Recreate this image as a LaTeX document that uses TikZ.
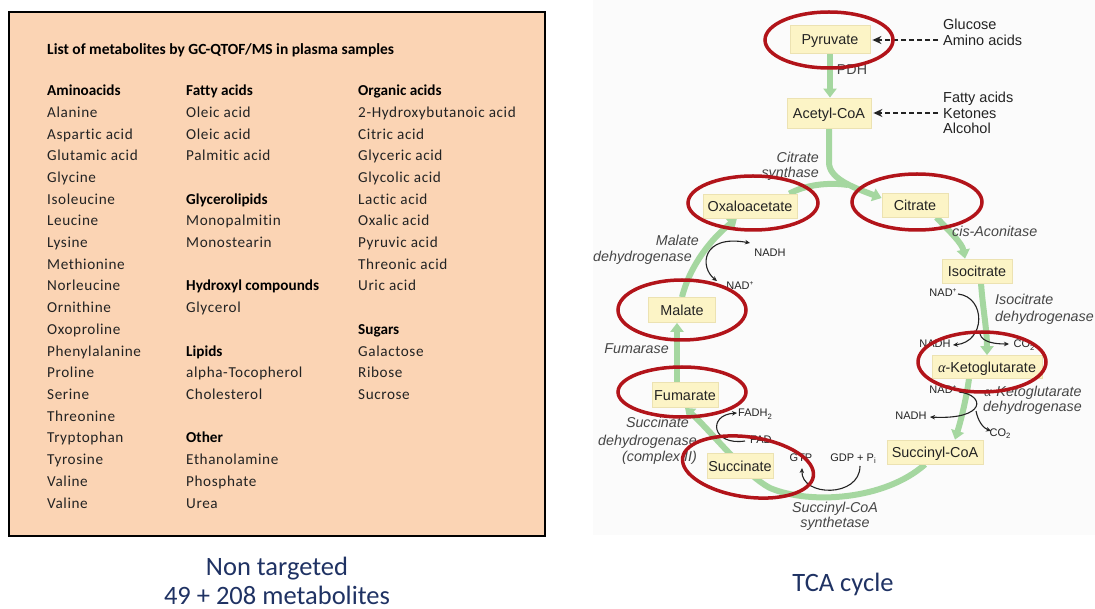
\documentclass[tikz,border=0pt]{standalone}
\usepackage{fontspec}
\setmainfont{Carlito}[Ligatures=NoCommon]
\newfontfamily\arial{Liberation Sans}
\newfontfamily\grk{Liberation Serif}
\usetikzlibrary{arrows.meta}
\definecolor{peach}{RGB}{251,212,180}
\definecolor{navy}{RGB}{31,50,99}
\definecolor{boxfill}{RGB}{252,244,198}
\definecolor{boxedge}{RGB}{236,226,178}
\definecolor{cyc}{RGB}{165,215,160}
\definecolor{ring}{RGB}{178,20,26}
\definecolor{lbl}{RGB}{70,70,70}
\definecolor{dk}{RGB}{35,35,35}
\definecolor{panel}{RGB}{251,251,251}
\newcommand{\sbs}[1]{\raisebox{-0.35ex}{\scalebox{0.7}{#1}}}
\newcommand{\sps}[1]{\raisebox{0.75ex}{\scalebox{0.6}{#1}}}
\begin{document}
\begin{tikzpicture}[x=1pt,y=-1pt,
  ent/.style={anchor=base west, inner sep=0pt, text=dk, font={\addfontfeature{LetterSpace=4}\fontsize{15.2}{18}\selectfont}},
  hd/.style={anchor=base west, inner sep=0pt, text=black, font={\bfseries\fontsize{15.2}{18}\selectfont}},
  capt/.style={anchor=base, inner sep=0pt, text=navy, font={\fontsize{26.5}{30}\selectfont}},
  met/.style={draw=boxedge, fill=boxfill, line width=0.8pt, inner sep=0pt, text=dk, text height=10.3pt, text depth=0pt, font={\arial\fontsize{14.4}{16}\selectfont}},
  src/.style={anchor=west, inner sep=0pt, text=dk, text height=10.3pt, text depth=0pt, font={\arial\fontsize{14.5}{16}\selectfont}},
  itl/.style={inner sep=0pt, text=lbl, font={\arial\itshape\fontsize{14.3}{16}\selectfont}},
  sml/.style={anchor=base, inner sep=0pt, text=dk, font={\arial\fontsize{11}{12}\selectfont}},
  cycl/.style={draw=cyc, line width=6pt},
  cycarr/.style={draw=cyc, line width=6pt, -{Triangle[length=9pt,width=13pt]}},
  dsh/.style={draw=dk, line width=2pt, dash pattern=on 5pt off 3pt, -{Stealth[length=9pt,width=8pt]}},
  blk/.style={draw=dk, line width=1.1pt},
  bt/.style={-{Stealth[length=5pt,width=4.5pt]}},
  ringst/.style={draw=ring, line width=3.5pt}
]
\useasboundingbox (0,0) rectangle (1095,609);
\fill[panel] (593,0) rectangle (1095,535);

% ---------------- left panel ----------------
\draw[line width=2.5pt, fill=peach] (9,12) rectangle (545,536);
\node[hd, font={\bfseries\fontsize{15.5}{18}\selectfont}] (title) at (47,55) {List of metabolites by GC-QTOF/MS in plasma samples};

\node[hd] (h1) at (47,95.7) {Aminoacids};
\foreach \t [count=\i from 1] in {Alanine, Aspartic acid, Glutamic acid, Glycine, Isoleucine, Leucine, Lysine, Methionine, Norleucine, Ornithine, Oxoproline, Phenylalanine, Proline, Serine, Threonine, Tryptophan, Tyrosine, Valine, Valine}
  \node[ent] (a\i) at (47,{95.7+21.7*\i}) {\t};

\foreach \r/\t in {0/Fatty acids, 5/Glycerolipids, 9/Hydroxyl compounds, 12/Lipids, 16/Other}
  \node[hd] (bh\r) at (186,{95.7+21.7*\r}) {\t};
\foreach \r/\t in {1/Oleic acid, 2/Oleic acid, 3/Palmitic acid, 6/Monopalmitin, 7/Monostearin, 10/Glycerol, 13/alpha-Tocopherol, 14/Cholesterol, 17/Ethanolamine, 18/Phosphate, 19/Urea}
  \node[ent] (b\r) at (186,{95.7+21.7*\r}) {\t};

\foreach \r/\t in {0/Organic acids, 11/Sugars}
  \node[hd] (ch\r) at (358,{95.7+21.7*\r}) {\t};
\foreach \r/\t in {1/2-Hydroxybutanoic acid, 2/Citric acid, 3/Glyceric acid, 4/Glycolic acid, 5/Lactic acid, 6/Oxalic acid, 7/Pyruvic acid, 8/Threonic acid, 9/Uric acid, 12/Galactose, 13/Ribose, 14/Sucrose}
  \node[ent] (c\r) at (358,{95.7+21.7*\r}) {\t};

\node[capt] (cap1) at (277,575) {Non targeted};
\node[capt] (cap2) at (277,604.5) {49 + 208 metabolites};
\node[capt] (cap3) at (843,591.5) {TCA cycle};

% ---------------- right panel: nodes ----------------
\node[met, minimum width=80pt, minimum height=28pt] (pyr) at (830,39) {Pyruvate};
\node[met, minimum width=84pt, minimum height=30pt] (acet) at (829,113) {Acetyl-CoA};
\node[met, minimum width=94pt, minimum height=24pt] (oxa) at (750,206) {Oxaloacetate};
\node[met, minimum width=66pt, minimum height=24pt] (cit) at (915,205) {Citrate};
\node[met, minimum width=70pt, minimum height=24pt] (iso) at (977,271) {Isocitrate};
\node[met, minimum width=110pt, minimum height=23pt] (akg) at (987,367) {{\grk\itshape α}-Ketoglutarate};
\node[met, minimum width=96pt, minimum height=24pt] (scoa) at (935,452) {Succinyl-CoA};
\node[met, minimum width=66pt, minimum height=25pt] (suc) at (740,466) {Succinate};
\node[met, minimum width=66pt, minimum height=25pt] (fum) at (685,395) {Fumarate};
\node[met, minimum width=67pt, minimum height=25pt] (mal) at (682,310) {Malate};

% sources
\node[src] (glu) at (943,24) {Glucose};
\node[src] (amino) at (943,40) {Amino acids};
\node[src] (fat) at (943,97) {Fatty acids};
\node[src] (ket) at (943,113) {Ketones};
\node[src] (alc) at (943,128) {Alcohol};

% green cycle
\coordinate (mrg) at (848,185);
\draw[cycarr] (pyr.south) -- (pyr.south |- acet.north);
\draw[cycl] ([xshift=-8pt]oxa.north east) .. controls (805,185) and (828,182) .. (mrg);
\draw[cycarr] (acet.south) -- ++(0,34) .. controls ++(0,16) and (852,187) .. ([yshift=7pt]cit.west);
\draw[cycarr] ([xshift=-12pt]cit.south east) .. controls (950,232) and (962,243) .. ([xshift=-12pt]iso.north);
\draw[cycarr] ([xshift=4pt]iso.south) .. controls (983,310) and (987,330) .. (akg.north);
\draw[cycarr] ([xshift=-18pt]akg.south) .. controls (966,400) and (961,420) .. ([xshift=20pt]scoa.north);
\draw[cycarr] ([xshift=-10pt]scoa.south) .. controls (885,500) and (810,505) .. (770,488) .. controls (745,475) and (710,430) .. (fum.south);
\draw[cycarr] ([xshift=-8pt]fum.north) -- ([xshift=-8pt]fum.north |- mal.south);
\draw[cycarr] (mal.north) .. controls (690,265) and (712,238) .. ([xshift=-13pt]oxa.south);

% boxes again, on top of the green lines
\node[met, minimum width=80pt, minimum height=28pt] (pyr2) at (pyr) {Pyruvate};
\node[met, minimum width=84pt, minimum height=30pt] (acet2) at (acet) {Acetyl-CoA};
\node[met, minimum width=94pt, minimum height=24pt] (oxa2) at (oxa) {Oxaloacetate};
\node[met, minimum width=66pt, minimum height=24pt] (cit2) at (cit) {Citrate};
\node[met, minimum width=70pt, minimum height=24pt] (iso2) at (iso) {Isocitrate};
\node[met, minimum width=110pt, minimum height=23pt] (akg2) at (akg) {{\grk\itshape α}-Ketoglutarate};
\node[met, minimum width=96pt, minimum height=24pt] (scoa2) at (scoa) {Succinyl-CoA};
\node[met, minimum width=66pt, minimum height=25pt] (suc2) at (suc) {Succinate};
\node[met, minimum width=66pt, minimum height=25pt] (fum2) at (fum) {Fumarate};
\node[met, minimum width=67pt, minimum height=25pt] (mal2) at (mal) {Malate};

% dashed inputs
\draw[dsh] ([xshift=-5pt]amino.west) -- ([xshift=2pt]amino.west -| pyr.east);
\draw[dsh] ([xshift=-5pt]ket.west) -- ([xshift=2pt]ket.west -| acet.east);

% enzyme labels
\node[itl, anchor=base, font={\arial\fontsize{14.3}{16}\selectfont}] (pdh) at (852,75) {PDH};
\node[itl, anchor=base east] (cs1) at (819,163) {Citrate};
\node[itl, anchor=base east] (cs2) at (819,178) {synthase};
\node[itl, anchor=base west] (aco) at (952,237) {cis-Aconitase};
\node[itl, anchor=base west] (idh1) at (995,305) {Isocitrate};
\node[itl, anchor=base west] (idh2) at (995,322) {dehydrogenase};
\node[itl, anchor=base west] (kdh1) at (984,397) {{\grk α}-Ketoglutarate};
\node[itl, anchor=base west] (kdh2) at (983,412) {dehydrogenase};
\node[itl, anchor=base] (scs1) at (835,512) {Succinyl-CoA};
\node[itl, anchor=base] (scs2) at (835,527) {synthetase};
\node[itl, anchor=base east] (sdh1) at (689,428) {Succinate};
\node[itl, anchor=base east] (sdh2) at (697,446) {dehydrogenase};
\node[itl, anchor=base east] (sdh3) at (697,461) {(complex II)};
\node[itl, anchor=base east] (fmr) at (669,354) {Fumarase};
\node[itl, anchor=base east] (mdh1) at (699,246) {Malate};
\node[itl, anchor=base east] (mdh2) at (692,262) {dehydrogenase};

% cofactors
\node[sml] (m-nadh) at (770,257) {NADH};
\node[sml] (m-nad) at (740,290) {NAD\sps{+}};
\node[sml] (i-nad) at (943,297) {NAD\sps{+}};
\node[sml] (i-nadh) at (935,348) {NADH};
\node[sml] (i-co2) at (1024,348) {CO\sbs{2}};
\node[sml] (k-nad) at (943,394) {NAD\sps{+}};
\node[sml] (k-nadh) at (911,420) {NADH};
\node[sml] (k-co2) at (1000,436) {CO\sbs{2}};
\node[sml, anchor=base west] (fadh) at (738,417) {FADH\sbs{2}};
\node[sml, anchor=base west] (fad) at (750,443) {FAD};
\node[sml] (gtp) at (801,461) {GTP};
\node[sml] (gdp) at (853,461) {GDP + P\sbs{i}};

% cofactor curves
\draw[blk, {Stealth[length=5pt,width=4.5pt]}-{Stealth[length=5pt,width=4.5pt]}] (717,281) .. controls (699,267) and (702,234) .. (750,243);
\draw[blk, bt] (958,294) .. controls (986,297) and (986,342) .. (953,345);
\draw[blk, bt] (980,334) .. controls (982,342) and (994,344) .. (1009,344);
\draw[blk, bt] (959,392) .. controls (986,395) and (986,420) .. (930,417);
\draw[blk, bt] (976,411) .. controls (978,421) and (983,428) .. (991,431);
\draw[blk, bt] (745,441) .. controls (712,446) and (707,415) .. (737,413);
\draw[blk, bt] (860,466) .. controls (860,498) and (801,497) .. (802,468);

% red rings
\draw[ringst] (829,40) ellipse [x radius=64, y radius=28];
\draw[ringst] (753,203) ellipse [x radius=65, y radius=27];
\draw[ringst] (917,202) ellipse [x radius=65, y radius=28];
\draw[ringst] (682,310) ellipse [x radius=64, y radius=30];
\draw[ringst] (682,392) ellipse [x radius=64, y radius=25];
\draw[ringst] (982,362) ellipse [x radius=64, y radius=30];
\draw[ringst, shift={(748,467)}, rotate=-8] (0,0) ellipse [x radius=66, y radius=30];
\end{tikzpicture}
\end{document}
